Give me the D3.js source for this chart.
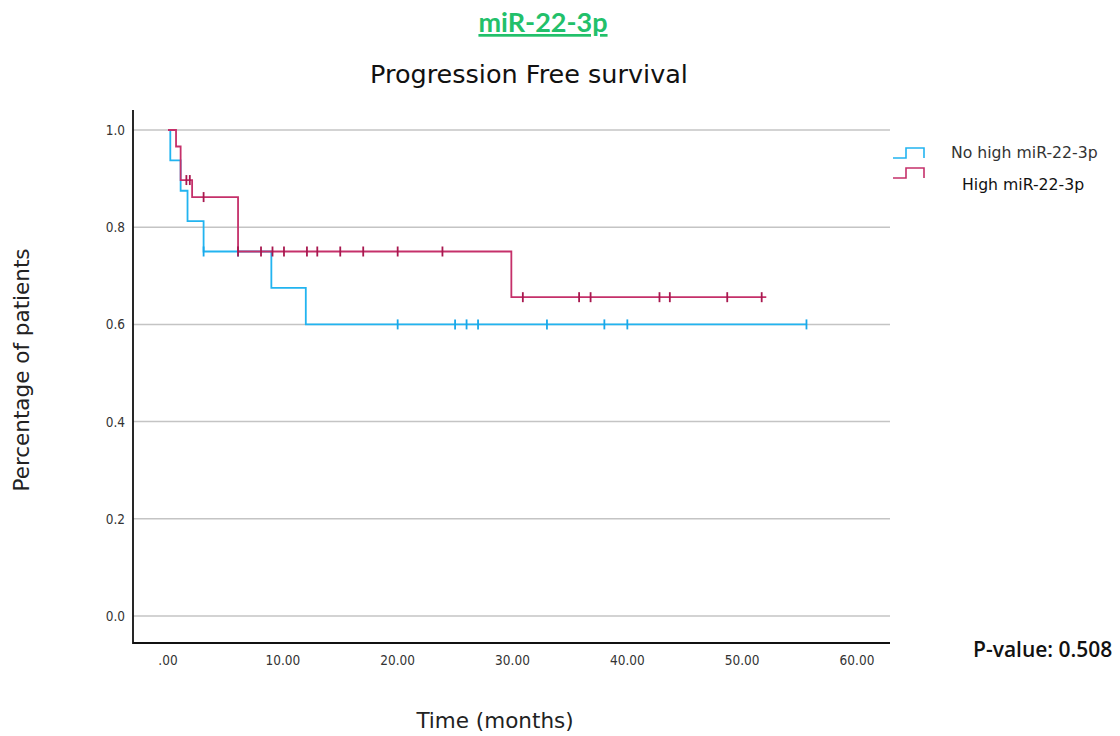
<!DOCTYPE html>
<html>
<head>
<meta charset="utf-8">
<script src="https://cdn.jsdelivr.net/npm/d3@7"></script>
<style>
  body { margin: 0; background: #fff; }
  svg { display: block; }
</style>
</head>
<body>
<div id="chart"></div>
<script>
// Kaplan-Meier step values
const noHighTimes = [0, 0.2, 1.1, 1.7, 3.1, 9.0, 12.0];
const noHighSurv = [1, 0.9375, 0.875, 0.8125, 0.75, 0.675, 0.6];
const noHighEnd = 55.6;
const noHighCensor = [3.1, 6.1, 20, 25, 26, 27, 33, 38, 40, 55.6];

const highTimes = [0, 0.7, 1.1, 2.1, 6.1, 29.9];
const highSurv = [1, 0.966, 0.897, 0.862, 0.75, 0.656];
const highEnd = 52.1;
const highCensor = [1.6, 1.9, 3.1, 6.1, 8.1, 9.1, 10.1, 12.1, 13.0, 15.0, 17.0, 20.0, 23.9,
  30.9, 35.8, 36.8, 42.8, 43.7, 48.7, 51.7];

const xTicks = [0, 10, 20, 30, 40, 50, 60];
const yTicks = [0, 0.2, 0.4, 0.6, 0.8, 1.0];

const W = 1120, H = 736;
const svg = d3.select("#chart").append("svg")
    .attr("width", W)
    .attr("height", H);

const x = d3.scaleLinear().domain([0, 60]).range([168, 857]);
const y = d3.scaleLinear().domain([0, 1]).range([616, 130]);
const plotL = 133, plotR = 890, plotT = 110, plotB = 643;
const din = "'DejaVu Sans', sans-serif";

// titles
svg.append("text")
    .attr("x", 543).attr("y", 32)
    .attr("text-anchor", "middle")
    .attr("font-family", "Lato, sans-serif")
    .attr("font-weight", "bold")
    .attr("font-size", 27)
    .attr("fill", "#22c06a")
    .attr("text-decoration", "underline")
    .text("miR-22-3p");

svg.append("text")
    .attr("x", 529).attr("y", 83)
    .attr("text-anchor", "middle")
    .attr("font-family", din)
    .attr("font-size", 25.5)
    .attr("fill", "#111")
    .text("Progression Free survival");

// gridlines
svg.append("g")
    .selectAll("line")
    .data(yTicks)
    .join("line")
    .attr("x1", plotL).attr("x2", plotR)
    .attr("y1", d => y(d)).attr("y2", d => y(d))
    .attr("stroke", "#c4c4c4")
    .attr("stroke-width", 1.5);

// y tick labels
svg.append("g")
    .selectAll("text")
    .data(yTicks)
    .join("text")
    .attr("x", 125)
    .attr("y", d => y(d) + 5)
    .attr("text-anchor", "end")
    .attr("font-family", "'DejaVu Sans Condensed', sans-serif")
    .attr("font-size", 13.5)
    .attr("fill", "#333")
    .text(d => d3.format(".1f")(d));

// x tick labels
svg.append("g")
    .selectAll("text")
    .data(xTicks)
    .join("text")
    .attr("x", d => x(d))
    .attr("y", 665)
    .attr("text-anchor", "middle")
    .attr("font-family", "'DejaVu Sans Condensed', sans-serif")
    .attr("font-size", 13.5)
    .attr("fill", "#333")
    .text(d => d === 0 ? ".00" : d3.format(".2f")(d));

// axis lines
svg.append("path")
    .attr("d", `M${plotL},${plotT}V${plotB}H${plotR}`)
    .attr("fill", "none")
    .attr("stroke", "#111")
    .attr("stroke-width", 1.8);

// axis titles
svg.append("text")
    .attr("transform", "translate(29,370) rotate(-90)")
    .attr("text-anchor", "middle")
    .attr("font-family", din)
    .attr("font-size", 21.5)
    .attr("fill", "#222")
    .text("Percentage of patients");

svg.append("text")
    .attr("x", 495).attr("y", 728)
    .attr("text-anchor", "middle")
    .attr("font-family", din)
    .attr("font-size", 21.5)
    .attr("fill", "#222")
    .text("Time (months)");

// survival curves
const stepAt = (times, surv, t) => surv[d3.bisectRight(times, t) - 1];

const drawCurve = (times, surv, end, censor, color, markColor) => {
    const pts = times.map((t, i) => [t, surv[i]]);
    pts.push([end, surv[surv.length - 1]]);
    const line = d3.line()
        .x(d => x(d[0]))
        .y(d => y(d[1]))
        .curve(d3.curveStepAfter);
    svg.append("path")
        .datum(pts)
        .attr("d", line)
        .attr("fill", "none")
        .attr("stroke", color)
        .attr("stroke-width", 1.8);
    svg.append("g")
        .selectAll("line")
        .data(censor)
        .join("line")
        .attr("x1", d => x(d)).attr("x2", d => x(d))
        .attr("y1", d => y(stepAt(times, surv, d)) - 5)
        .attr("y2", d => y(stepAt(times, surv, d)) + 5)
        .attr("stroke", markColor)
        .attr("stroke-width", 1.8);
};

drawCurve(noHighTimes, noHighSurv, noHighEnd, noHighCensor, "#22b4f0", "#18a8ea");
drawCurve(highTimes, highSurv, highEnd, highCensor, "#c5306a", "#a8184f");

// legend
const legend = [
    { label: "No high miR-22-3p", color: "#22b4f0", y: 158, tx: 951, ty: 158 },
    { label: "High miR-22-3p", color: "#c5306a", y: 178, tx: 962, ty: 190 }
];
const lg = svg.append("g").selectAll("g").data(legend).join("g");
lg.append("path")
    .attr("d", d => `M893,${d.y}H906V${d.y - 10}H924V${d.y}`)
    .attr("fill", "none")
    .attr("stroke", d => d.color)
    .attr("stroke-width", 1.6);
lg.append("text")
    .attr("x", d => d.tx).attr("y", d => d.ty)
    .attr("font-family", din)
    .attr("font-size", 15.7)
    .attr("fill", (d, i) => i === 0 ? "#333" : "#111")
    .text(d => d.label);

// p-value
svg.append("text")
    .attr("x", 973).attr("y", 657)
    .attr("font-family", "'Open Sans', sans-serif")
    .attr("font-weight", 600)
    .attr("font-size", 21)
    .attr("fill", "#111")
    .text("P-value: 0.508");
</script>
</body>
</html>
